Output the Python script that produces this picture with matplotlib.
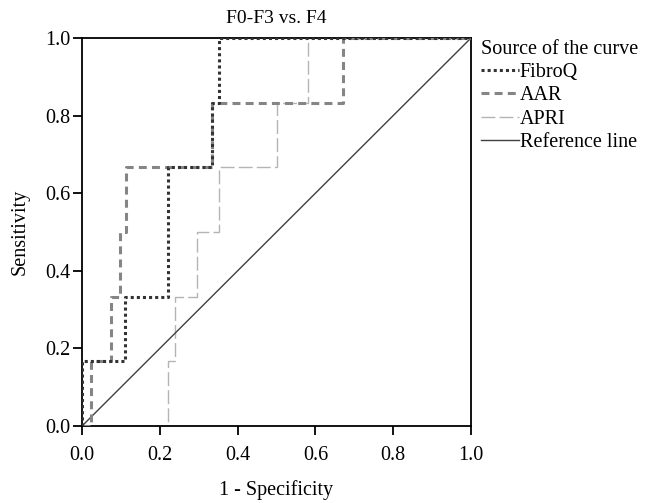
import matplotlib.pyplot as plt

plt.rcParams['font.family'] = ['Liberation Serif', 'DejaVu Serif']

# ROC step curves (1 - specificity, sensitivity)
fibroq_x = [0.0, 0.0, 0.111, 0.111, 0.222, 0.222, 0.333, 0.333, 0.352, 0.352, 1.0]
fibroq_y = [0.0, 0.167, 0.167, 0.333, 0.333, 0.667, 0.667, 0.833, 0.833, 1.0, 1.0]

aar_x = [0.0, 0.023, 0.023, 0.075, 0.075, 0.098, 0.098, 0.113, 0.113, 0.333, 0.333, 0.67, 0.67, 1.0]
aar_y = [0.0, 0.0, 0.167, 0.167, 0.333, 0.333, 0.5, 0.5, 0.667, 0.667, 0.833, 0.833, 1.0, 1.0]

apri_x = [0.0, 0.222, 0.222, 0.238, 0.238, 0.296, 0.296, 0.352, 0.352, 0.5, 0.5, 0.58, 0.58, 1.0]
apri_y = [0.0, 0.0, 0.167, 0.167, 0.333, 0.333, 0.5, 0.5, 0.667, 0.667, 0.833, 0.833, 1.0, 1.0]

ref_x = [0.0, 1.0]
ref_y = [0.0, 1.0]

ticks = [0.0, 0.2, 0.4, 0.6, 0.8, 1.0]

fig = plt.figure(figsize=(6.52, 5.03), dpi=100)
ax = fig.add_axes([0.1258, 0.153, 0.5966, 0.7715])

ax.plot(apri_x, apri_y, color='#b4b4b4', lw=1.0, dashes=(10, 3), label='APRI', zorder=2)
ax.plot(ref_x, ref_y, color='#404040', lw=1.0, label='Reference line', zorder=3)
ax.plot(aar_x, aar_y, color='#858585', lw=2.2, dashes=(2.6, 1.7), label='AAR', zorder=4)
ax.plot(fibroq_x, fibroq_y, color='#333333', lw=2.2, dashes=(1.0, 1.0), label='FibroQ', zorder=5)

ax.set_xlim(0, 1)
ax.set_ylim(0, 1)
ax.set_xticks(ticks)
ax.set_yticks(ticks)
ax.set_xticklabels(['%.1f' % t for t in ticks], fontsize=14.5)
ax.set_yticklabels(['%.1f' % t for t in ticks], fontsize=14.5)
ax.tick_params(direction='out', length=6.5, width=1.3)
ax.tick_params(axis='x', pad=8)
ax.tick_params(axis='y', pad=2)
for s in ax.spines.values():
    s.set_linewidth(1.3)

ax.set_xlabel('1 - Specificity', fontsize=14.5, labelpad=11)
ax.set_ylabel('Sensitivity', fontsize=14.5, labelpad=11)
ax.set_title('F0-F3 vs. F4', fontsize=14, pad=11)

h, l = ax.get_legend_handles_labels()
order = [3, 2, 0, 1]
leg = fig.legend([h[i] for i in order], [l[i] for i in order],
                 loc='upper left', bbox_to_anchor=(0.737, 0.92),
                 frameon=False, fontsize=14.5, title='Source of the curve',
                 title_fontsize=14.5, handlelength=1.9, handletextpad=0.05,
                 labelspacing=0.2, borderpad=0, borderaxespad=0,
                 alignment='left')

fig.savefig('out.png', dpi=100)
